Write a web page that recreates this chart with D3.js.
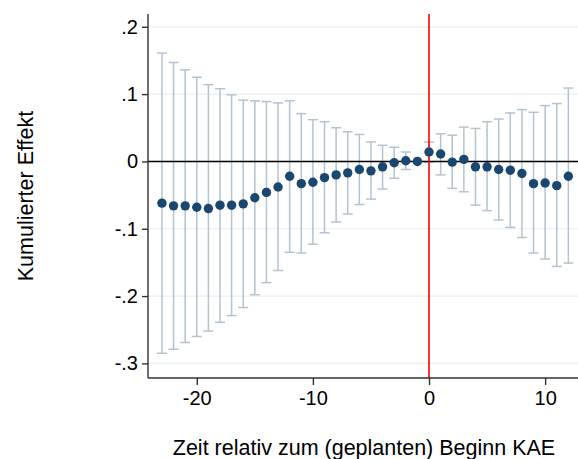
<!DOCTYPE html>
<html><head><meta charset="utf-8">
<script src="https://cdn.jsdelivr.net/npm/d3@7"></script>
<style>body{margin:0;background:#fff}svg{display:block}text{font-family:"Liberation Sans",Arial,sans-serif;fill:#000}</style>
</head><body>
<svg id="c" width="578" height="459"></svg>
<script>
const periods = [-23,-22,-21,-20,-19,-18,-17,-16,-15,-14,-13,-12,-11,-10,-9,-8,-7,-6,-5,-4,-3,-2,-1,0,1,2,3,4,5,6,7,8,9,10,11,12];
const estimates = [-0.062,-0.066,-0.066,-0.068,-0.070,-0.065,-0.065,-0.063,-0.054,-0.046,-0.038,-0.022,-0.033,-0.031,-0.024,-0.020,-0.017,-0.012,-0.014,-0.008,-0.002,0.001,0.000,0.014,0.011,-0.001,0.003,-0.008,-0.008,-0.012,-0.013,-0.018,-0.033,-0.032,-0.036,-0.022];
const upper = [0.161,0.147,0.136,0.125,0.114,0.108,0.099,0.091,0.090,0.089,0.087,0.090,0.071,0.062,0.059,0.050,0.044,0.040,0.029,0.024,0.021,0.014,0.000,0.029,0.041,0.039,0.051,0.049,0.059,0.063,0.072,0.077,0.073,0.083,0.086,0.109];
const lower = [-0.285,-0.279,-0.269,-0.260,-0.252,-0.239,-0.229,-0.217,-0.198,-0.180,-0.162,-0.135,-0.136,-0.123,-0.106,-0.090,-0.078,-0.064,-0.056,-0.041,-0.025,-0.012,0.000,-0.001,-0.020,-0.040,-0.045,-0.065,-0.073,-0.087,-0.098,-0.113,-0.136,-0.145,-0.156,-0.151];
const yTicks = [0.2,0.1,0,-0.1,-0.2,-0.3];
const yTickLabels = [".2",".1","0","-.1","-.2","-.3"];
const xTicks = [-20,-10,0,10];
const xTickLabels = ["-20","-10","0","10"];
const xTitle = "Zeit relativ zum (geplanten) Beginn KAE";
const yTitle = "Kumulierter Effekt";

const svg = d3.select("#c");
const x = d3.scaleLinear().domain([-24.2, 12.83]).range([148, 578]);
const y = d3.scaleLinear().domain([-0.3217, 0.219]).range([378, 14]);

// gridlines
svg.append("g").selectAll("line").data(yTicks).join("line")
  .attr("x1",148).attr("x2",578).attr("y1",d=>y(d)).attr("y2",d=>y(d))
  .attr("stroke","#e8eff1").attr("stroke-width",1.2);

// whiskers
const wcol = "#b3c3d3";
const g = svg.append("g");
periods.forEach((p,i)=>{
  if (upper[i]===lower[i]) return;
  g.append("line").attr("x1",x(p)).attr("x2",x(p)).attr("y1",y(upper[i])).attr("y2",y(lower[i])).attr("stroke",wcol).attr("stroke-width",1.5);
  [upper[i],lower[i]].forEach(v=>g.append("line").attr("x1",x(p)-5).attr("x2",x(p)+5).attr("y1",y(v)).attr("y2",y(v)).attr("stroke",wcol).attr("stroke-width",1.5));
});

// zero line
svg.append("line").attr("x1",148).attr("x2",578).attr("y1",y(0)).attr("y2",y(0)).attr("stroke","#000").attr("stroke-width",1.6);
// red line
svg.append("line").attr("x1",x(0)).attr("x2",x(0)).attr("y1",14).attr("y2",378).attr("stroke","#ff0000").attr("stroke-width",1.6);

// dots
svg.append("g").selectAll("circle").data(periods).join("circle")
  .attr("cx",d=>x(d)).attr("cy",(d,i)=>y(estimates[i])).attr("r",4.7).attr("fill","#1a476f");

// axes
const yAxis = d3.axisLeft(y).tickValues(yTicks).tickFormat((d,i)=>yTickLabels[i]).tickSize(6).tickPadding(4);
const ya = svg.append("g").attr("transform","translate(148,0)").call(yAxis);
ya.select(".domain").attr("d","M0,14V378").attr("stroke","#333").attr("stroke-width",1.4);
ya.selectAll(".tick line").attr("stroke","#333").attr("stroke-width",1.4);
ya.selectAll(".tick text").attr("font-size",20).attr("font-family","Liberation Sans, Arial, sans-serif").attr("fill","#000");

const xAxis = d3.axisBottom(x).tickValues(xTicks).tickFormat((d,i)=>xTickLabels[i]).tickSize(7).tickPadding(6);
const xa = svg.append("g").attr("transform","translate(0,378)").call(xAxis);
xa.select(".domain").attr("d","M148,0H578").attr("stroke","#333").attr("stroke-width",1.4);
xa.selectAll(".tick line").attr("stroke","#333").attr("stroke-width",1.4);
xa.selectAll(".tick text").attr("font-size",20).attr("font-family","Liberation Sans, Arial, sans-serif").attr("fill","#000");

svg.append("text").attr("x",364).attr("y",455).attr("text-anchor","middle").attr("font-size",21.5).text(xTitle);
svg.append("text").attr("transform","translate(33,196) rotate(-90)").attr("text-anchor","middle").attr("font-size",21.5).text(yTitle);
</script>
</body></html>
